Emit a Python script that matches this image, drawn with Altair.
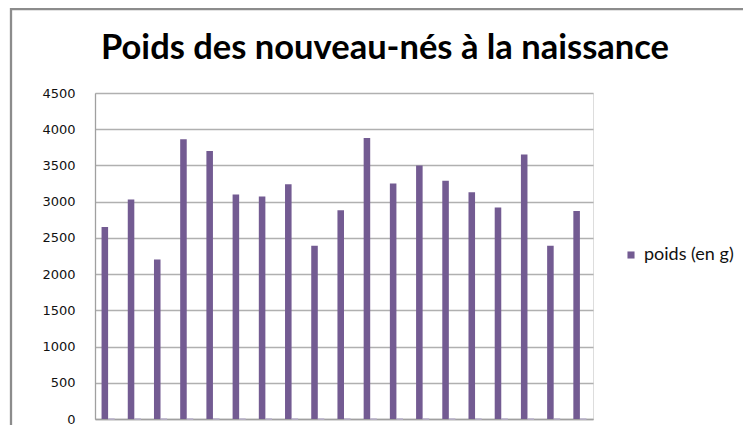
import altair as alt
import pandas as pd

# Data
bebes = ["1", "2", "3", "4", "5", "6", "7", "8", "9", "10",
         "11", "12", "13", "14", "15", "16", "17", "18", "19"]
poids = [2650, 3030, 2200, 3860, 3700, 3100, 3070, 3240, 2390, 2880,
         3880, 3250, 3500, 3290, 3130, 2920, 3650, 2390, 2870]
vide = [0, 0, 0, 0, 0, 0, 0, 0, 0, 0, 0, 0, 0, 0, 0, 0, 0, 0, 0]
serie = "poids (en g)"
serie_vide = "série 2"
y_ticks = [0, 500, 1000, 1500, 2000, 2500, 3000, 3500, 4000, 4500]
titre = "Poids des nouveau-nés à la naissance"

df_poids = pd.DataFrame({"bebe": bebes, "poids": poids, "serie": serie})
df_vide = pd.DataFrame({"bebe": bebes, "poids": vide, "serie": serie_vide})

PURPLE = "#735B92"
GRID = "#B0B0B0"

x_enc = alt.X(
    "bebe:N", sort=bebes,
    scale=alt.Scale(paddingInner=0.5, paddingOuter=0.25),
    axis=alt.Axis(labels=False, ticks=False, title=None,
                  domainColor="#A0A0A0", domainWidth=1.3),
)
xoff_enc = alt.XOffset(
    "serie:N",
    scale=alt.Scale(domain=[serie, serie_vide], paddingInner=0, paddingOuter=0),
)
y_enc = alt.Y(
    "poids:Q",
    scale=alt.Scale(domain=[0, 4500], nice=False),
    axis=alt.Axis(values=y_ticks, format="d", title=None, ticks=False, labelPadding=20,
                  labelFont="DejaVu Sans", labelFontSize=13, labelColor="#111111",
                  gridColor=GRID, gridWidth=1.3,
                  domainColor="#A0A0A0", domainWidth=1.3),
)

one_row = pd.DataFrame({"k": [0]})

frame = alt.Chart(one_row).mark_rect(
    fillOpacity=0, stroke="#8C8C8C", strokeWidth=2.3
).encode(
    x=alt.value(-84), x2=alt.value(900), y=alt.value(-84), y2=alt.value(700)
)

title_mark = alt.Chart(one_row).mark_text(
    font="Lato", fontSize=34.5, fontWeight="bold", color="#000000",
    align="center", baseline="alphabetic"
).encode(x=alt.value(290), y=alt.value(-34), text=alt.value(titre))

bars = alt.Chart(df_poids).mark_bar().encode(
    x=x_enc, xOffset=xoff_enc, y=y_enc,
    color=alt.Color(
        "serie:N",
        scale=alt.Scale(domain=[serie], range=[PURPLE]),
        legend=alt.Legend(title=None, orient="none", legendX=527, legendY=153,
                          symbolType="square", symbolSize=50, symbolStrokeWidth=0,
                          labelFont="Lato", labelFontSize=18, labelColor="#111111",
                          labelOffset=4),
    ),
)

zero_bars = alt.Chart(df_vide).mark_bar(
    color="#BBB2CC", stroke="#BBB2CC", strokeWidth=1.6
).encode(x=x_enc, xOffset=xoff_enc, y=y_enc)

chart = alt.layer(frame, title_mark, bars, zero_bars).properties(
    width=498,
    height=326,
    padding={"left": 87, "top": 85, "right": 150, "bottom": 6},
    autosize=alt.AutoSizeParams(type="none"),
).configure_view(strokeWidth=0).configure(background="white")

chart.save("out.html", embed_options={"renderer": "svg", "actions": False})
